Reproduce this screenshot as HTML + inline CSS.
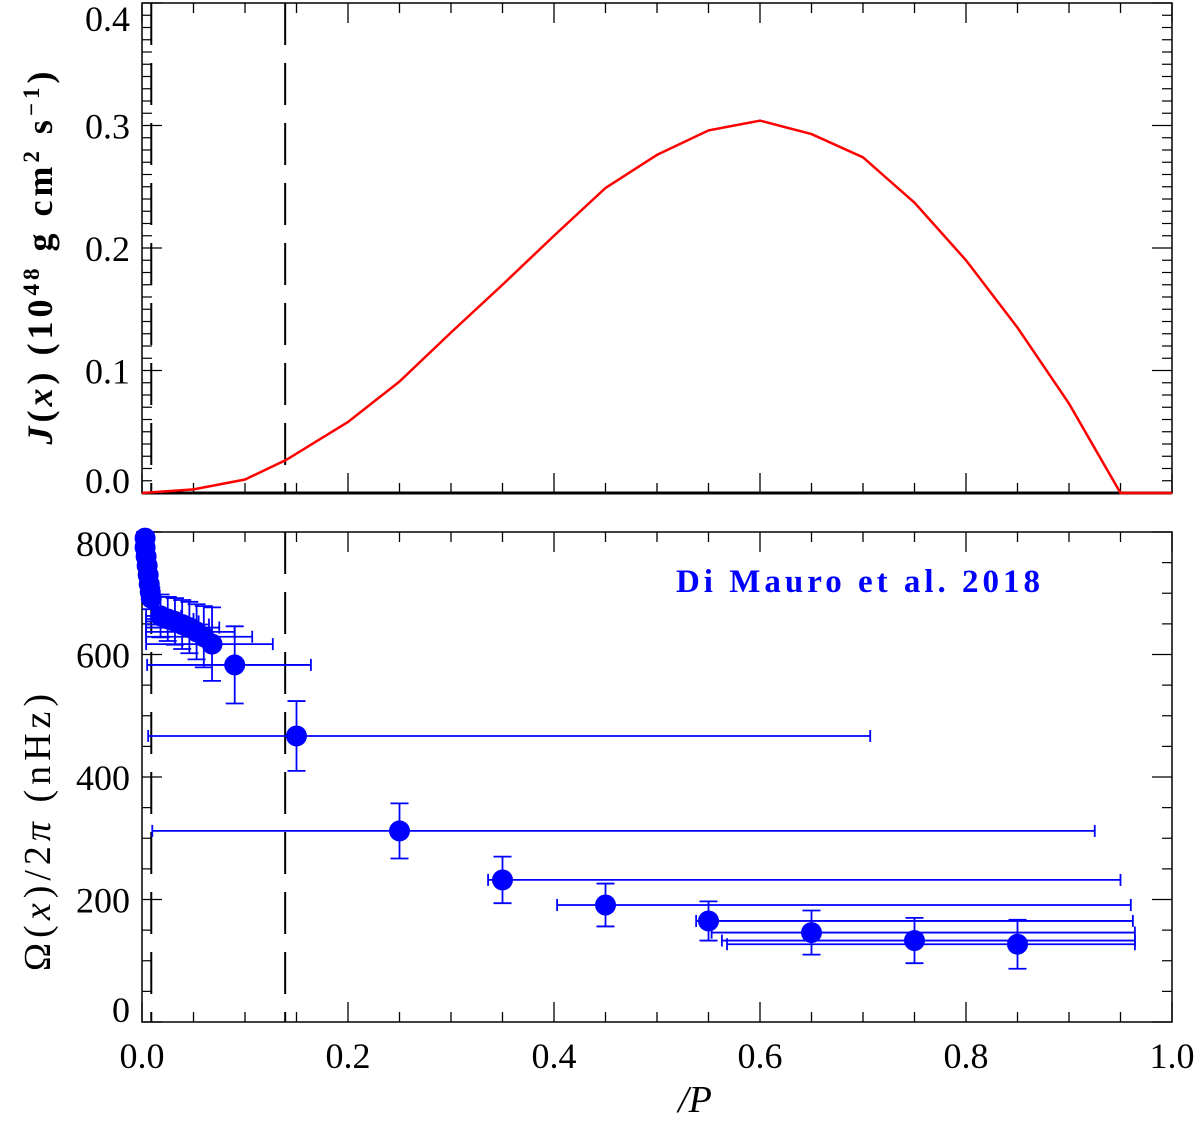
<!DOCTYPE html>
<html><head><meta charset="utf-8"><style>body{margin:0;background:#fff}svg{display:block}text{font-family:"Liberation Serif",serif}</style></head>
<body>
<svg id="c" width="1200" height="1129" viewBox="0 0 1200 1129" xmlns="http://www.w3.org/2000/svg">
<g id="gtop"></g>
<g id="gbot"></g>
<text x="860" y="592" text-anchor="middle" font-size="33" font-weight="bold" fill="#0000ff" letter-spacing="4">Di Mauro et al. 2018</text>
<text transform="translate(52,256) rotate(-90)" text-anchor="middle" font-size="36" font-weight="bold" letter-spacing="4"><tspan font-style="italic">J</tspan>(<tspan font-style="italic">x</tspan>)  (10<tspan font-size="23" dy="-13">48</tspan><tspan dy="13"> g cm</tspan><tspan font-size="23" dy="-13">2</tspan><tspan dy="13"> s</tspan><tspan font-size="23" dy="-13">−1</tspan><tspan dy="13">)</tspan></text>
<text transform="translate(50,830) rotate(-90)" text-anchor="middle" font-size="38" letter-spacing="5">Ω(<tspan font-style="italic">x</tspan>)/2<tspan font-style="italic">π</tspan>  (nHz)</text>
<text x="695" y="1112" text-anchor="middle" font-size="38" font-family="Liberation Sans" font-style="italic">/P</text>
</svg>
<script>
const jx=[0,0.05,0.1,0.14,0.2,0.25,0.3,0.35,0.4,0.45,0.5,0.55,0.6,0.65,0.7,0.75,0.8,0.85,0.9,0.95,1.0];
const jy=[0,0.003,0.011,0.027,0.058,0.091,0.131,0.17,0.21,0.249,0.276,0.296,0.304,0.293,0.274,0.237,0.19,0.135,0.073,0,0];
const ptX=[0.003,0.003,0.004,0.005,0.006,0.007,0.008,0.009,0.018,0.025,0.032,0.039,0.046,0.053,0.06,0.068,0.09,0.15,0.25,0.35,0.45,0.55,0.65,0.75,0.85];
const ptY=[790,775,760,745,730,715,702,692,663,658,654,649,644,637,629,617,583,467,312,232,191,165,146,133,127];
const xLo=[0.001,0.001,0.001,0.002,0.002,0.003,0.003,0.004,0.004,0.004,0.004,0.004,0.004,0.004,0.004,0.004,0.005,0.006,0.01,0.336,0.403,0.538,0.553,0.563,0.568];
const xHi=[0.006,0.007,0.008,0.01,0.011,0.012,0.013,0.014,0.038,0.05,0.055,0.065,0.075,0.09,0.107,0.127,0.164,0.707,0.925,0.95,0.96,0.962,0.964,0.964,0.964];
const yErr=[10,10,12,12,14,14,16,18,35,36,38,40,42,45,50,60,63,57,45,38,35,32,36,37,40];
const topTicks=["0.0","0.1","0.2","0.3","0.4"];
const botTicks=["0","200","400","600","800"];
const xTicks=["0.0","0.2","0.4","0.6","0.8","1.0"];
const dashX=[0.009,0.139];
const NS='http://www.w3.org/2000/svg';
const L=142,R=1172;
const sx=v=>L+(R-L)*v;
const ty=v=>493-v/0.4*490;
const by=v=>1022-v/800*490;
function mk(p,t,a){const e=document.createElementNS(NS,t);for(const k in a)e.setAttribute(k,a[k]);p.appendChild(e);return e;}
const gTop=document.getElementById('gtop'),gBot=document.getElementById('gbot');
function frame(g,y0,y1,name){
  const r=mk(g,'rect',{x:L,y:y0,width:R-L,height:y1-y0,fill:'none',stroke:'#000','stroke-width':1.5});
  
  
  for(let i=0;i<=20;i++){const x=sx(i/20),len=i%4==0?20:10;
    mk(g,'line',{x1:x,y1:y1,x2:x,y2:y1-len,stroke:'#000','stroke-width':1.3});
    mk(g,'line',{x1:x,y1:y0,x2:x,y2:y0+len,stroke:'#000','stroke-width':1.3});}
  dashX.forEach(d=>{const l=mk(g,'line',{x1:sx(d),y1:y0,x2:sx(d),y2:y1,stroke:'#000','stroke-width':2,'stroke-dasharray':'42,18'});
    
    });
}
frame(gTop,3,493,'top');
frame(gBot,532,1022,'bottom');
for(let i=0;i<=40;i++){const y=ty(i*0.01),len=i%10==0?20:10;
  mk(gTop,'line',{x1:L,y1:y,x2:L+len,y2:y,stroke:'#000','stroke-width':1.2});
  mk(gTop,'line',{x1:R,y1:y,x2:R-len,y2:y,stroke:'#000','stroke-width':1.2});}
topTicks.forEach((t,i)=>{const e=mk(gTop,'text',{x:130,y:i==0?493:(i==4?31:ty(i*0.1)+13),'text-anchor':'end','font-size':36});e.textContent=t;
  
  });
for(let i=0;i<=16;i++){const y=by(i*50),len=i%4==0?20:10;
  mk(gBot,'line',{x1:L,y1:y,x2:L+len,y2:y,stroke:'#000','stroke-width':1.2});
  mk(gBot,'line',{x1:R,y1:y,x2:R-len,y2:y,stroke:'#000','stroke-width':1.2});}
botTicks.forEach((t,i)=>{const e=mk(gBot,'text',{x:130,y:i==0?1022:(i==4?556:by(i*200)+13),'text-anchor':'end','font-size':36});e.textContent=t;
  
  });
xTicks.forEach((t,i)=>{const e=mk(gBot,'text',{x:sx(i*0.2),y:1068,'text-anchor':'middle','font-size':36});e.textContent=t;
  
  });
mk(gTop,'line',{x1:L,y1:493,x2:R,y2:493,stroke:'#000','stroke-width':3});
const pl=mk(gTop,'polyline',{points:jx.map((x,i)=>sx(x)+','+ty(jy[i])).join(' '),fill:'none',stroke:'#ff0000','stroke-width':2.5});


ptX.forEach((x,i)=>{
  const g=mk(gBot,'g',{stroke:'#0000ff','stroke-width':1.8});
  
  
  const cy=by(ptY[i]),a=sx(xLo[i]),b=sx(xHi[i]),t=by(ptY[i]+yErr[i]),u=by(ptY[i]-yErr[i]),cx=sx(x);
  mk(g,'line',{x1:a,y1:cy,x2:b,y2:cy});
  mk(g,'line',{x1:a,y1:cy-6,x2:a,y2:cy+6});
  mk(g,'line',{x1:b,y1:cy-6,x2:b,y2:cy+6});
  mk(g,'line',{x1:cx,y1:t,x2:cx,y2:u});
  mk(g,'line',{x1:cx-9,y1:t,x2:cx+9,y2:t});
  mk(g,'line',{x1:cx-9,y1:u,x2:cx+9,y2:u});
  const c=mk(gBot,'circle',{cx:cx,cy:cy,r:10.5,fill:'#0000ff'});
  
  
});
</script>
</body></html>
